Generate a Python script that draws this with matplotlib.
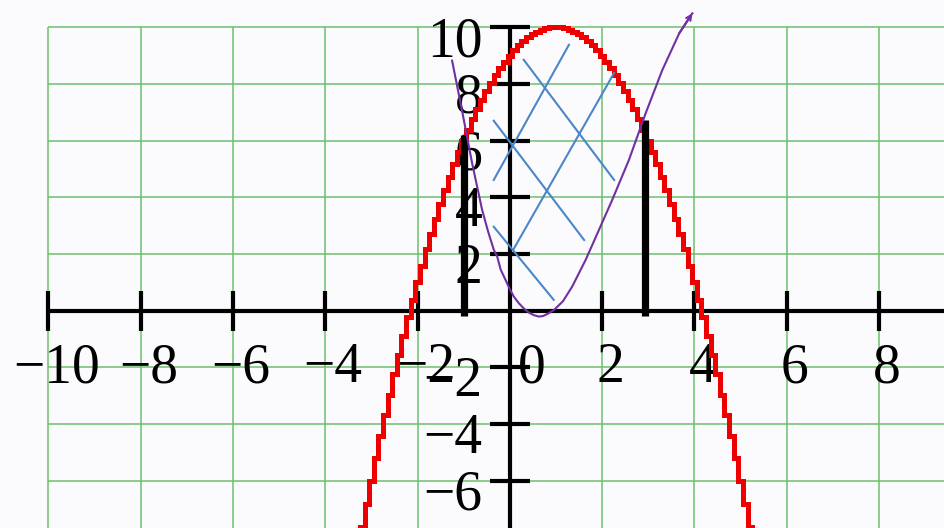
import numpy as np
import matplotlib
matplotlib.use("Agg")
import matplotlib.pyplot as plt

# ---- axis ranges and ticks ----
x_min, x_max = -11.05, 9.43
y_min, y_max = -7.67, 10.96
x_ticks = [-10, -8, -6, -4, -2, 2, 4, 6, 8]
x_tick_labels = ["−10", "−8", "−6", "−4", "−2", "2", "4", "6", "8"]
y_ticks = [-6, -4, -2, 2, 4, 6, 8, 10]
y_tick_labels = ["−6", "−4", "−2", "2", "4", "6", "8", "10"]
grid_x = [-10, -8, -6, -4, -2, 2, 4, 6, 8]
grid_y = [-6, -4, -2, 2, 4, 6, 8, 10]

# ---- parabola y = -x^2 + 2x + 9, sampled on a coarse step ----
parabola_coeffs = [-1, 2, 9]
parabola_x_range = (-3.4, 5.45)
parabola_step = 0.1

# ---- second (purple) curve, traced points ----
curve_x = [-1.252, -1.03, -0.818, -0.601, -0.47, -0.347, -0.275, -0.2,
           -0.093, 0.0, 0.087, 0.195, 0.30, 0.412, 0.52, 0.629, 0.72,
           0.81, 0.954, 1.15, 1.351, 1.642, 1.931, 2.219, 2.581,
           2.944, 3.304, 3.672, 3.954]
curve_y = [8.82, 7.0, 5.20, 3.55, 2.78, 2.14, 1.91, 1.45,
           1.08, 0.75, 0.49, 0.26, 0.08, -0.07, -0.16, -0.21, -0.19,
           -0.12, 0.02, 0.33, 0.85, 1.79, 2.85, 3.91, 5.32,
           6.97, 8.49, 9.79, 10.49]

# ---- vertical bound bars ----
bar_x = [-1.0, 2.93]
bar_top = [6.2, 6.73]
bar_bottom = -0.2

# ---- hatch segments (x0, y0) -> (x1, y1) ----
hatch_x0 = [0.30, -0.35, -0.35, 1.28, 2.26]
hatch_y0 = [8.85, 6.70, 2.96, 9.38, 8.39]
hatch_x1 = [2.26, 1.61, 0.95, -0.35, 0.07]
hatch_y1 = [4.61, 2.49, 0.38, 4.61, 2.14]

# ---- styles ----
bg = "#fbfbfe"
grid_color = "#6dbf6d"
red = "#ee0000"
purple = "#7030a0"
blue = "#4a86c8"
label_font = dict(family="Liberation Serif", size=40, color="black")

fig = plt.figure(figsize=(9.45, 5.28), dpi=100)
fig.patch.set_facecolor(bg)
ax = fig.add_axes([0, 0, 1, 1])
ax.set_facecolor(bg)
ax.set_xlim(x_min, x_max)
ax.set_ylim(y_min, y_max)
ax.axis("off")

# grid (confined to x >= -10 and y <= 10)
ax.vlines(grid_x, y_min, 10, colors=grid_color, linewidth=1.1, zorder=1)
ax.hlines(grid_y, -10, x_max, colors=grid_color, linewidth=1.1, zorder=1)

# axes
ax.plot([-10, x_max], [0, 0], color="black", linewidth=3, zorder=3,
        solid_capstyle="butt")
ax.plot([0, 0], [y_min, 10], color="black", linewidth=3, zorder=3,
        solid_capstyle="butt")
ax.vlines(x_ticks, -0.706, 0.706, colors="black", linewidth=3, zorder=3)
ax.hlines(y_ticks, -0.433, 0.433, colors="black", linewidth=3, zorder=3)

# tick labels
for xv, lab in zip(x_ticks, x_tick_labels):
    ax.text(xv + 0.17, -2.52, lab, ha="center", va="baseline", zorder=4,
            **label_font)
ax.text(0.48, -2.52, "0", ha="center", va="baseline", zorder=4, **label_font)
for yv, lab in zip(y_ticks, y_tick_labels):
    ax.text(-0.6, yv - 1.02, lab, ha="right", va="baseline", zorder=4,
            **label_font)

# stepped parabola
px = np.arange(parabola_x_range[0], parabola_x_range[1], parabola_step)
py = np.polyval(parabola_coeffs, px)
ax.plot(px, py, color=red, linewidth=3.6, drawstyle="steps-mid", zorder=5,
        solid_joinstyle="miter")

# bound bars
for bx, bt in zip(bar_x, bar_top):
    ax.plot([bx, bx], [bar_bottom, bt], color="black", linewidth=5.2,
            solid_capstyle="butt", zorder=6)

# purple curve with arrow tip
ax.plot(curve_x, curve_y, color=purple, linewidth=1.5, zorder=7,
        solid_joinstyle="round")
ax.annotate("", xy=(curve_x[-1], curve_y[-1]),
            xytext=(curve_x[-2], curve_y[-2]),
            arrowprops=dict(arrowstyle="->", color=purple, lw=1.5,
                            mutation_scale=9, shrinkA=0, shrinkB=0),
            zorder=7)

# hatch lines
for x0, y0, x1, y1 in zip(hatch_x0, hatch_y0, hatch_x1, hatch_y1):
    ax.plot([x0, x1], [y0, y1], color=blue, linewidth=1.5, zorder=8)

fig.savefig("out.png", dpi=100, facecolor=bg)
